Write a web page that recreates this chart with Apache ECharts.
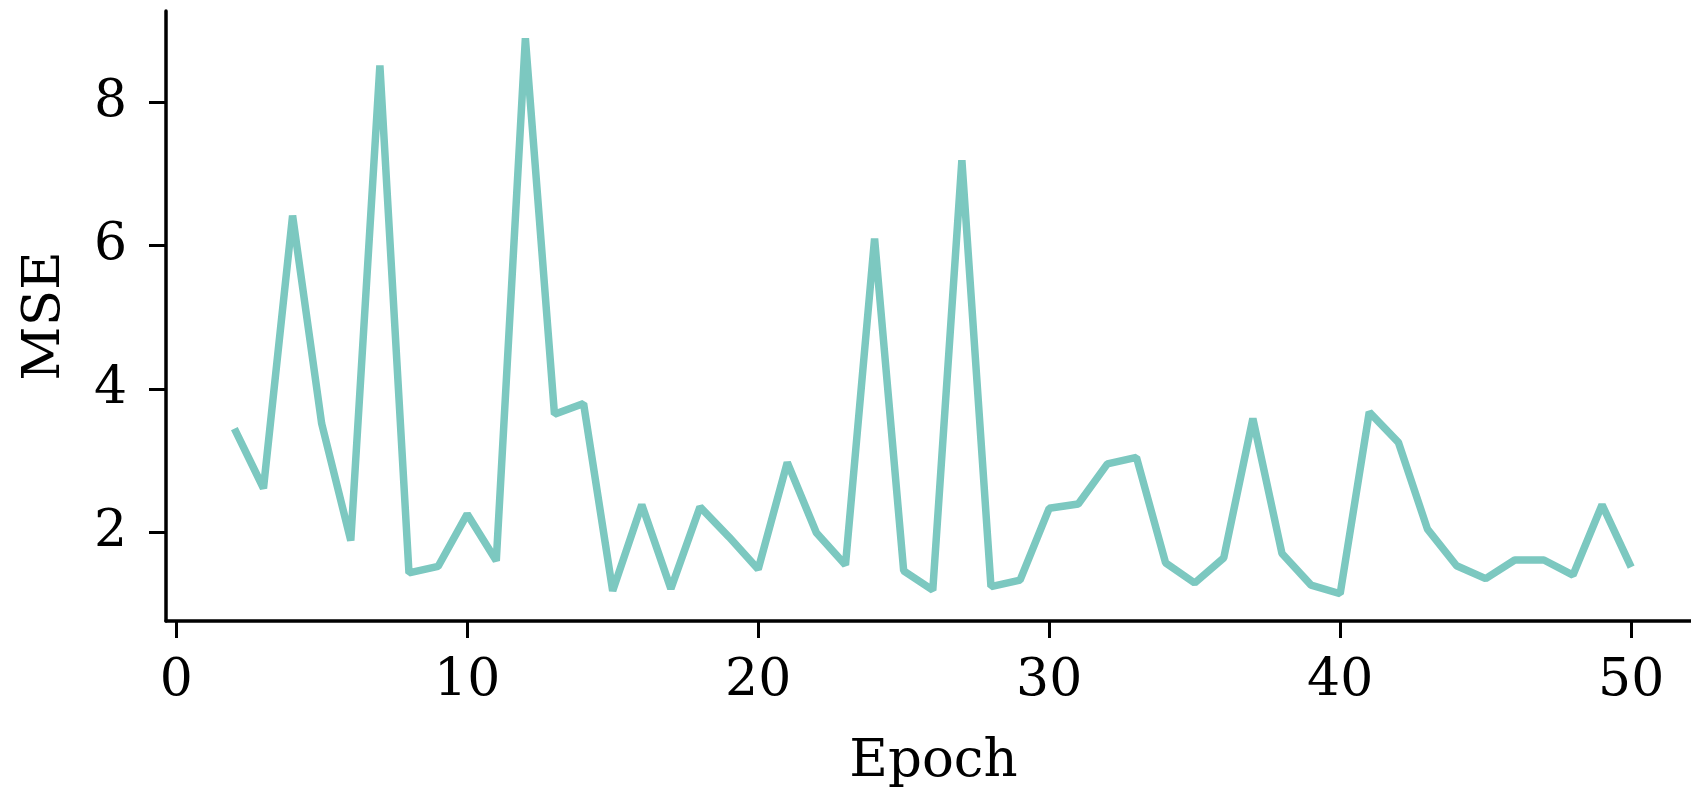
<!DOCTYPE html>
<html>
<head>
<meta charset="utf-8">
<title>MSE per epoch</title>
<script src="https://cdn.jsdelivr.net/npm/echarts@6/dist/echarts.min.js"></script>
<style>
    html, body {margin: 0; padding: 0; background: #fff;}
    #chart {width: 1691px; height: 790px;}
</style>
</head>
<body>
<div id="chart"></div>
<script>
// epochs 2..50 and the MSE
const epochs = [2, 3, 4, 5, 6, 7, 8, 9, 10, 11, 12, 13, 14, 15, 16, 17, 18, 19, 20, 21, 22, 23, 24, 25, 26,
    27, 28, 29, 30, 31, 32, 33, 34, 35, 36, 37, 38, 39, 40, 41, 42, 43, 44, 45, 46, 47, 48, 49, 50];
const mse = [3.45, 2.62, 6.42, 3.52, 1.89, 8.51, 1.44, 1.53, 2.26, 1.61, 8.89, 3.65, 3.8, 1.19, 2.39, 1.22,
    2.36, 1.94, 1.49, 2.98, 2.0, 1.55, 6.1, 1.47, 1.2, 7.19, 1.25, 1.34, 2.34, 2.4, 2.96, 3.05, 1.58, 1.3,
    1.65, 3.59, 1.71, 1.27, 1.15, 3.68, 3.26, 2.05, 1.54, 1.36, 1.62, 1.62, 1.41, 2.39, 1.52];
const xTicks = [0, 10, 20, 30, 40, 50];
const yTicks = [2, 4, 6, 8];

const font = 'DejaVu Serif';

let chart = echarts.init(document.getElementById('chart'));
let option = {
    animation: false,
    backgroundColor: '#ffffff',
    grid: {left: 166, right: -10, top: 11, bottom: 169, outerBoundsMode: 'none', containLabel: false},
    xAxis: {
        type: 'value',
        min: -0.35,
        max: 52.4,
        name: 'Epoch',
        nameLocation: 'middle',
        nameGap: 115,
        nameTextStyle: {fontFamily: font, fontSize: 53, color: '#000'},
        splitLine: {show: false},
        axisLine: {onZero: false, lineStyle: {color: '#000', width: 3.5}},
        axisTick: {show: true, length: 17, lineStyle: {color: '#000', width: 3}, customValues: xTicks},
        axisLabel: {fontFamily: font, fontSize: 52, color: '#000', margin: 34, customValues: xTicks}
    },
    yAxis: {
        type: 'value',
        min: 0.77,
        max: 9.27,
        name: 'MSE',
        nameLocation: 'middle',
        nameGap: 94,
        nameTextStyle: {fontFamily: font, fontSize: 53, color: '#000'},
        splitLine: {show: false},
        // spine sits at the left edge of the grid, not at epoch 0
        axisLine: {show: true, onZero: false, lineStyle: {color: '#000', width: 3.5}},
        axisTick: {show: true, length: 17, lineStyle: {color: '#000', width: 3}, customValues: yTicks},
        axisLabel: {fontFamily: font, fontSize: 52, color: '#000', margin: 39, customValues: yTicks}
    },
    series: [{
        type: 'line',
        data: epochs.map((e, i) => [e, mse[i]]),
        showSymbol: false,
        lineStyle: {color: '#7cc8c0', width: 7.5}
    }]
};
chart.setOption(option);
</script>
</body>
</html>
